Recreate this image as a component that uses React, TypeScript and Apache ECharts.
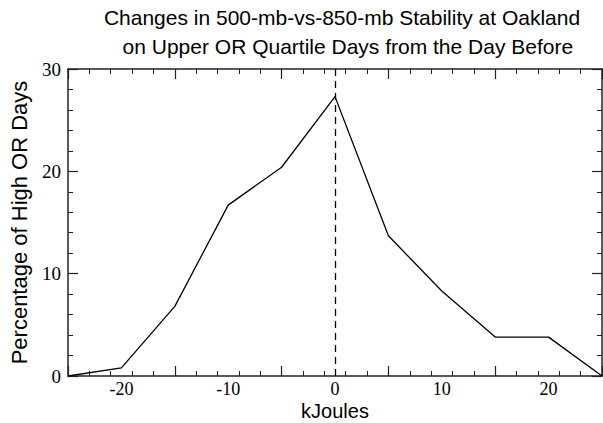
import React, { useEffect, useRef } from "react";
import * as echarts from "echarts";

const xValues = [-25, -20, -15, -10, -5, 0, 5, 10, 15, 20, 25];
const pctValues = [0, 0.8, 6.8, 16.7, 20.4, 27.3, 13.7, 8.3, 3.8, 3.8, 0];
const xTickLabels = [-20, -10, 0, 10, 20];
const titleLines = [
  "Changes in 500-mb-vs-850-mb Stability at Oakland",
  "  on Upper OR Quartile Days from the Day Before",
];

const axisColor = "#222";

function mkX(pos: "bottom" | "top", labels: boolean) {
  return {
    type: "value",
    position: pos,
    min: -25,
    max: 25,
    interval: 10,
    name: labels ? "kJoules" : "",
    nameLocation: "middle",
    nameGap: 25,
    nameMoveOverlap: false,
    nameTextStyle: { fontFamily: "Liberation Sans", fontSize: 20, lineHeight: 20, color: "#000" },
    axisLine: { show: true, onZero: false, lineStyle: { color: axisColor, width: 1.5 } },
    axisTick: { show: true, inside: true, length: 10, lineStyle: { color: axisColor, width: 1.2 } },
    minorTick: { show: true, splitNumber: 5, length: 5, lineStyle: { color: axisColor, width: 1 } },
    axisLabel: {
      show: labels,
      fontFamily: "Liberation Serif",
      fontSize: 18,
      lineHeight: 18,
      color: "#000",
      margin: 4,
      customValues: xTickLabels,
    },
    splitLine: { show: false },
  };
}

function mkY(pos: "left" | "right", labels: boolean) {
  return {
    type: "value",
    position: pos,
    min: 0,
    max: 30,
    interval: 10,
    name: labels ? "Percentage of High OR Days" : "",
    nameLocation: "middle",
    nameGap: 38,
    nameMoveOverlap: false,
    nameTextStyle: { fontFamily: "Liberation Sans", fontSize: 22, color: "#000" },
    axisLine: { show: true, onZero: false, lineStyle: { color: axisColor, width: 1.5 } },
    axisTick: { show: true, inside: true, length: 10, lineStyle: { color: axisColor, width: 1.2 } },
    minorTick: { show: true, splitNumber: 5, length: 5, lineStyle: { color: axisColor, width: 1 } },
    axisLabel: {
      show: labels,
      fontFamily: "Liberation Serif",
      fontSize: 19,
      color: "#000",
      margin: 7,
    },
    splitLine: { show: false },
  };
}

export default function App() {
  const ref = useRef<HTMLDivElement>(null);
  useEffect(() => {
    if (!ref.current) return;
    const chart = echarts.init(ref.current, undefined, { renderer: "svg" });
    chart.setOption({
      animation: false,
      backgroundColor: "#fff",
      title: {
        text: titleLines.join("\n"),
        left: 337,
        textAlign: "center",
        top: -2,
        textStyle: {
          fontFamily: "Liberation Sans",
          fontSize: 21,
          fontWeight: "normal",
          color: "#000",
          lineHeight: 29,
        },
      },
      grid: { left: 68, right: 1, top: 69, bottom: 47, containLabel: false, outerBoundsMode: "none" },
      xAxis: [mkX("bottom", true), mkX("top", false)],
      yAxis: [mkY("left", true), mkY("right", false)],
      series: [
        {
          type: "line",
          data: xValues.map((x, i) => [x, pctValues[i]]),
          showSymbol: false,
          symbol: "none",
          lineStyle: { color: "#000", width: 1.3 },
          markLine: {
            silent: true,
            symbol: "none",
            label: { show: false },
            lineStyle: { color: "#000", type: [7, 5], width: 1.3 },
            data: [{ xAxis: 0 }],
          },
        },
      ],
    });
    return () => chart.dispose();
  }, []);
  return <div ref={ref} style={{ width: 603, height: 423, position: "absolute", left: 0, top: 0 }} />;
}
